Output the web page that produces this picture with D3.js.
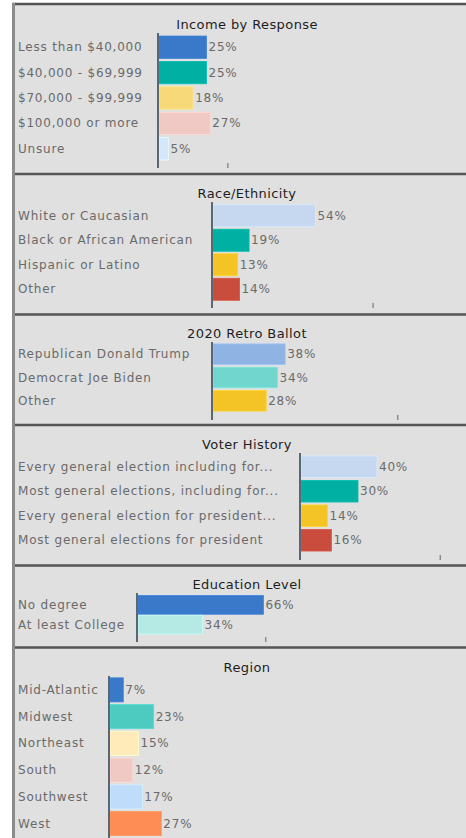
<!DOCTYPE html>
<html lang="en">
<head>
    <meta charset="UTF-8">
    <title>Survey Breakdown</title>
    <script src="https://d3js.org/d3.v7.min.js"></script>
    <style>
        body { margin: 0; background: #fff; }
        .label, .value { font-family: "DejaVu Sans", sans-serif; font-size: 12px; fill: #6a6a6a; letter-spacing: 0.8px; }
        .title { font-family: "DejaVu Sans", sans-serif; font-size: 13px; fill: #1e1e1e; letter-spacing: 0.4px; }
    </style>
</head>
<body>
    <svg id="chart"></svg>

    <script>
        // data
        const panelTitles = ["Income by Response", "Race/Ethnicity", "2020 Retro Ballot", "Voter History", "Education Level", "Region"];

        const incomeCats = ["Less than $40,000", "$40,000 - $69,999", "$70,000 - $99,999", "$100,000 or more", "Unsure"];
        const incomeVals = [25, 25, 18, 27, 5];

        const raceCats = ["White or Caucasian", "Black or African American", "Hispanic or Latino", "Other"];
        const raceVals = [54, 19, 13, 14];

        const ballotCats = ["Republican Donald Trump", "Democrat Joe Biden", "Other"];
        const ballotVals = [38, 34, 28];

        const historyCats = ["Every general election including for...", "Most general elections, including for...", "Every general election for president...", "Most general elections for president"];
        const historyVals = [40, 30, 14, 16];

        const educationCats = ["No degree", "At least College"];
        const educationVals = [66, 34];

        const regionCats = ["Mid-Atlantic", "Midwest", "Northeast", "South", "Southwest", "West"];
        const regionVals = [7, 23, 15, 12, 17, 27];

        // lone unlabeled tick on each panel's x axis (percent)
        const axisTicks = [36, 84, 97, 73, 67, null];

        // styles / layout
        const palettes = [
            ["#3a78c9", "#00b0a3", "#f8d97a", "#f0c9c4", "#d5e7fb"],
            ["#c6d8ef", "#00b0a3", "#f4c325", "#c94c3d"],
            ["#8fb4e3", "#70d6ce", "#f4c325"],
            ["#c6d8ef", "#00b0a3", "#f4c325", "#c94c3d"],
            ["#3a78c9", "#b4e9e4"],
            ["#3a78c9", "#4ecbc1", "#feebb9", "#f0c9c4", "#bfdcfb", "#fe8c55"]
        ];
        const layout = [
            { top: 4,     bottom: 174,   titleY: 24,  axisX: 158, band: [34.5, 161.5], axisY: [33, 168],  pad: 0.12 },
            { top: 174,   bottom: 314.5, titleY: 193, axisX: 212, band: [203.5, 301.5], axisY: [202, 308], pad: 0.1 },
            { top: 314.5, bottom: 425,   titleY: 333, axisX: 212, band: [342.5, 412.5], axisY: [342, 420], pad: 0.12 },
            { top: 425,   bottom: 565.5, titleY: 444, axisX: 300, band: [454.5, 552.5], axisY: [453, 560], pad: 0.12 },
            { top: 565.5, bottom: 647.5, titleY: 584, axisX: 137, band: [595, 634.5],   axisY: [593, 642], pad: 0.05 },
            { top: 647.5, bottom: 900,   titleY: 667, axisX: 109, band: [676.5, 837],   axisY: [676, 900], pad: 0.1 }
        ];

        const cats = [incomeCats, raceCats, ballotCats, historyCats, educationCats, regionCats];
        const vals = [incomeVals, raceVals, ballotVals, historyVals, educationVals, regionVals];

        const width = 466, height = 838;
        const left = 12, pxPerPct = 1.9;
        const svg = d3.select("#chart").attr("width", width).attr("height", height);

        layout.forEach((L, i) => {
            const g = svg.append("g");
            const data = cats[i].map((c, j) => ({ cat: c, val: vals[i][j], color: palettes[i][j] }));

            g.append("rect")
                .attr("x", left).attr("y", L.top)
                .attr("width", width - left).attr("height", L.bottom - L.top)
                .attr("fill", "#e0e0e0");

            const x = d3.scaleLinear().domain([0, 100]).range([L.axisX + 1, L.axisX + 1 + 100 * pxPerPct]);
            const y = d3.scaleBand().domain(cats[i]).range(L.band).paddingInner(L.pad).paddingOuter(L.pad / 2);

            g.append("text").attr("class", "title")
                .attr("x", 247).attr("y", L.titleY)
                .attr("text-anchor", "middle").attr("dominant-baseline", "central")
                .text(panelTitles[i]);

            g.selectAll(".bar").data(data).enter().append("rect")
                .attr("class", "bar")
                .attr("x", x(0))
                .attr("y", d => y(d.cat))
                .attr("width", d => x(d.val) - x(0))
                .attr("height", y.bandwidth())
                .attr("fill", d => d.color)
                .attr("stroke", d => d3.color(d.color).brighter(0.25))
                .attr("stroke-width", 0.8);

            g.selectAll(".label").data(data).enter().append("text")
                .attr("class", "label")
                .attr("x", 18)
                .attr("y", d => y(d.cat) + y.bandwidth() / 2)
                .attr("dominant-baseline", "central")
                .text(d => d.cat);

            g.selectAll(".value").data(data).enter().append("text")
                .attr("class", "value")
                .attr("x", d => x(d.val) + 2)
                .attr("y", d => y(d.cat) + y.bandwidth() / 2)
                .attr("dominant-baseline", "central")
                .text(d => d.val + "%");

            // vertical category axis
            g.append("line")
                .attr("x1", L.axisX).attr("x2", L.axisX)
                .attr("y1", L.axisY[0]).attr("y2", L.axisY[1])
                .attr("stroke", "#5a6672").attr("stroke-width", 2);

            if (axisTicks[i] != null) {
                const ax = g.append("g")
                    .attr("transform", `translate(0, ${L.axisY[1] - 5})`)
                    .call(d3.axisBottom(x).tickValues([axisTicks[i]]).tickSize(5).tickFormat(""));
                ax.select(".domain").remove();
                ax.selectAll(".tick line").attr("stroke", "#666");
            }
        });

        // panel separators and frame
        const seps = layout.map(L => L.top);
        svg.selectAll(".sep").data(seps).enter().append("line")
            .attr("class", "sep")
            .attr("x1", left).attr("x2", width)
            .attr("y1", d => d).attr("y2", d => d)
            .attr("stroke", "#555").attr("stroke-width", 2.5);

        svg.append("line")
            .attr("x1", left + 1.5).attr("x2", left + 1.5)
            .attr("y1", 3).attr("y2", height)
            .attr("stroke", "#8c8c8c").attr("stroke-width", 3);
    </script>
</body>
</html>
